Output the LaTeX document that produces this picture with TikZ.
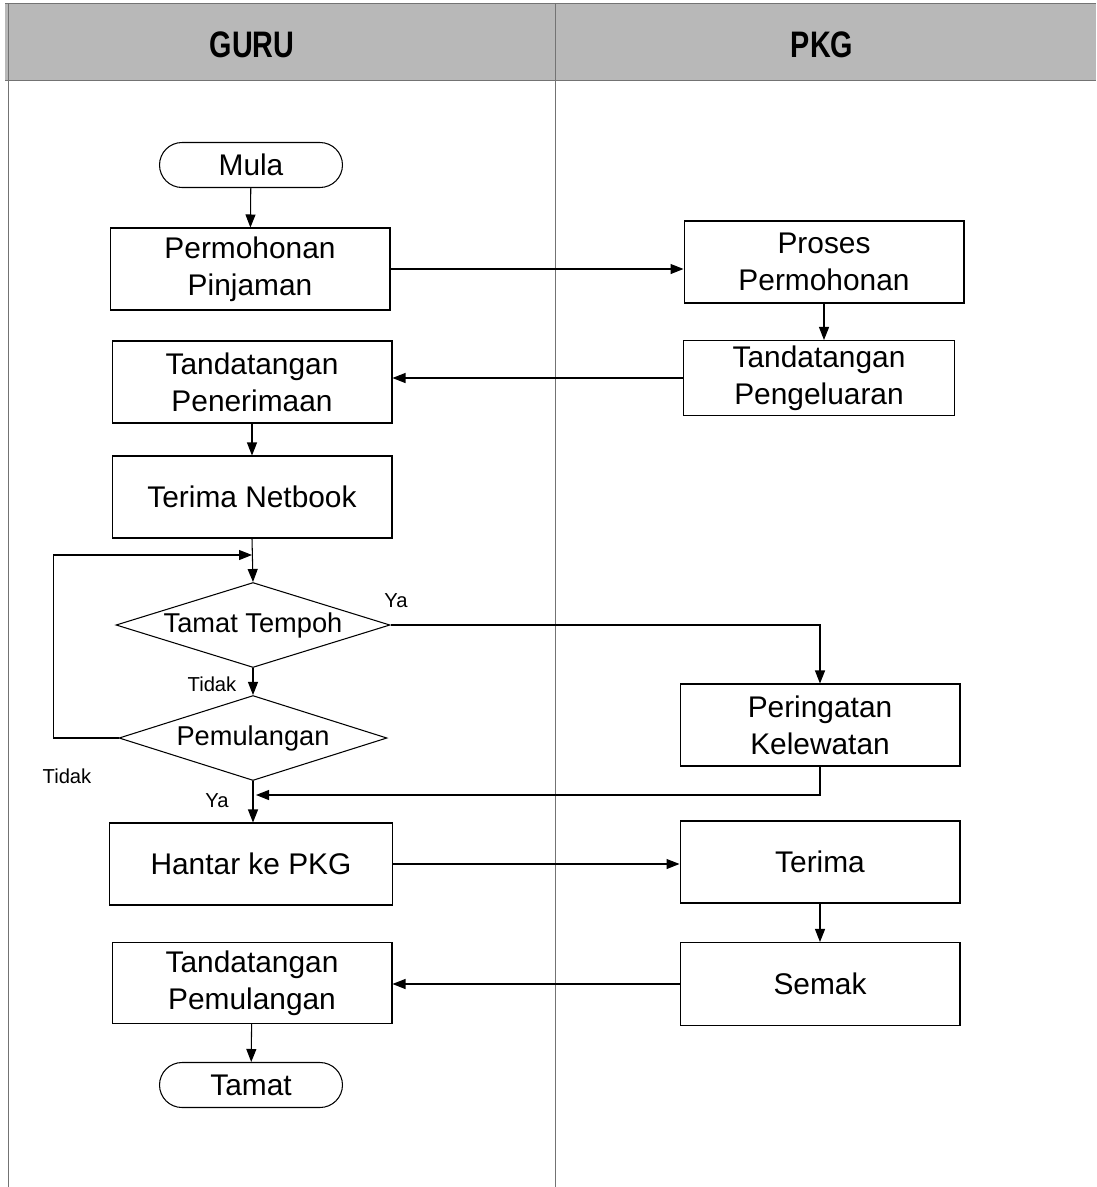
\documentclass[tikz,border=0pt]{standalone}
\usepackage{fontspec}
\usepackage{graphicx}
\setmainfont{Liberation Sans}
\usetikzlibrary{arrows.meta,shapes.geometric}

\begin{document}
\begin{tikzpicture}[
 x=.02cm,y=-.02cm,
 line/.style={line width=.6pt},
 arr/.style={line width=.6pt,-{Triangle[length=.26cm,width=.2cm]}},
 lane/.style={line width=.5pt,black!55},
 proc/.style={draw,line width=.6pt,minimum width=5.6cm,minimum height=1.64cm,align=center,inner sep=0pt},
 term/.style={draw,line width=.6pt,rounded corners=.45cm,minimum width=3.66cm,minimum height=.9cm,inner sep=0pt},
 dec/.style={draw,line width=.6pt,diamond,minimum width=5.48cm,minimum height=1.7cm,inner sep=0pt},
 tag/.style={font=\fontsize{11.5}{13}\selectfont},
 head/.style={font=\fontsize{21}{21}\selectfont\bfseries},
 every node/.style={font=\fontsize{17}{21}\selectfont}]
 \useasboundingbox (0,0) rectangle (1096,1187);
 % Swimlane header and lane borders.
 \fill[black!28] (5,3) rectangle (1096,80);
 \draw[lane] (5,3)--(1096,3) (5,80)--(1096,80);
 \draw[lane] (8,3)--(8,1187) (555,3)--(555,1187);
 \node[head] (guru) at (252,45){\scalebox{.78}[1]{GURU}};
 \node[head] (pkg) at (822,45){\scalebox{.78}[1]{PKG}};
 % GURU lane.
 \node[term] (mula) at (251,165){Mula};
 \node[proc] (pp) at (250,269){Permohonan\\Pinjaman};
 \node[proc] (tpn) at (252,382){Tandatangan\\Penerimaan};
 \node[proc] (tn) at (252,497){Terima Netbook};
 \node[dec] (tt) at (253,625){};
 \node[font=\fontsize{15.5}{18}\selectfont] (ttx) at (tt){Tamat Tempoh};
 \node[dec,minimum width=5.36cm] (pm) at (253,738){};
 \node[font=\fontsize{15.5}{18}\selectfont] (pmx) at (pm){Pemulangan};
 \node[proc,minimum width=5.66cm] (hk) at (251,864){Hantar ke PKG};
 \node[proc,minimum height=1.62cm] (tpl) at (252,983){Tandatangan\\Pemulangan};
 \node[term] (tamat) at (251,1085){Tamat};
 % PKG lane.
 \node[proc,minimum height=1.64cm] (pr) at (824,262){Proses\\Permohonan};
 \node[proc,minimum width=5.42cm,minimum height=1.5cm] (tpg) at (819,378){Tandatangan\\Pengeluaran};
 \node[proc] (pk) at (820,725){Peringatan\\Kelewatan};
 \node[proc] (tr) at (820,862){Terima};
 \node[proc,minimum height=1.66cm] (sm) at (820,984){Semak};
 % Junction points on the GURU flow line.
 \coordinate (lp) at (252,555);
 \coordinate (ya) at (256,795);
 % Connectors.
 \draw[arr] (mula)--(pp);
 \draw[arr] (pp.east)--(pp.east -| pr.west);
 \draw[arr] (pr.south)--(pr.south |- tpg.north);
 \draw[arr] (tpg.west)--(tpg.west -| tpn.east);
 \draw[arr] (tpn)--(tn);
 \draw[arr] (tn.south)--(tt.north);
 \draw[arr] (tt)--(pm);
 \draw[arr] (tt.east)-|(pk.north);
 \draw[arr] (pm.west)--++(-65,0)|-(lp);
 \draw[arr] (pm.south)--(pm.south |- hk.north);
 \draw[arr] (pk.south)|-(ya);
 \draw[arr] (hk.east)--(hk.east -| tr.west);
 \draw[arr] (tr)--(sm);
 \draw[arr] (sm.west)--(sm.west -| tpl.east);
 \draw[arr] (tpl)--(tamat);
 % Branch labels.
 \node[tag] (ya1) at (396,601){Ya};
 \node[tag] (td1) at (212,684){Tidak};
 \node[tag] (td2) at (67,776){Tidak};
 \node[tag] (ya2) at (217,801){Ya};
\end{tikzpicture}
\end{document}
